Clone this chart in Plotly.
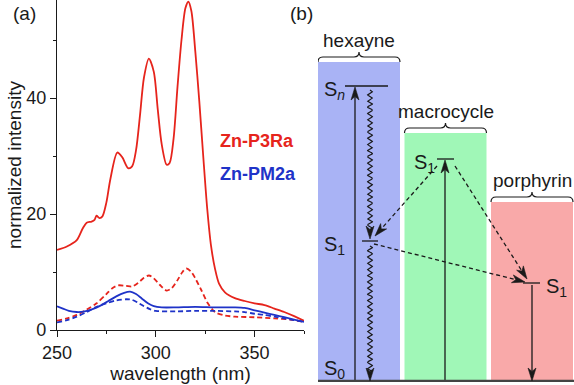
import numpy as np
import plotly.graph_objects as go

# ---------------- Panel (a): spectra ----------------
wl_p3ra = [250, 255, 260, 263, 265, 267.5, 269, 270, 271.5, 273, 275, 277, 280.5, 283, 286, 288,
           290, 292, 294, 296.5, 299, 301, 303, 305.5, 307, 309, 311, 313, 315, 316.5, 318, 320,
           322, 324, 326, 328, 330, 332, 335, 340, 345, 350, 355, 360, 365, 370, 375]
int_p3ra = [13.8, 14.4, 15.5, 17.5, 18.5, 18.7, 19.0, 19.7, 19.3, 19.6, 22.0, 26.0, 30.6, 29.8, 27.9, 28.2,
            31.0, 37.0, 43.5, 46.8, 44.5, 38.0, 32.0, 28.5, 28.8, 33.0, 42.0, 50.0, 55.5, 56.6, 55.0, 48.0,
            39.5, 30.0, 21.0, 14.4, 10.5, 8.0, 6.5, 5.5, 5.0, 4.6, 4.3, 3.7, 3.1, 2.4, 1.6]

wl_p3ra_d = [250, 255, 260, 265, 270, 275, 278, 281, 285, 288, 291, 294, 296.5, 299, 302, 305.5,
             308, 311, 313.5, 315.5, 318, 320, 323, 326, 329, 331, 335, 340, 350, 360, 368, 375]
int_p3ra_d = [1.6, 2.0, 2.6, 3.5, 4.6, 6.2, 7.2, 7.7, 7.6, 7.5, 8.1, 9.0, 9.4, 8.9, 7.8, 6.8,
              7.2, 8.6, 10.0, 10.6, 10.0, 8.9, 6.9, 4.8, 3.4, 2.9, 2.5, 2.3, 2.2, 2.0, 1.8, 1.4]

wl_pm2a = [250, 253, 256, 260, 264, 268, 272, 276, 280, 284, 287, 290, 293, 296, 299, 303,
           310, 320, 330, 340, 345, 350, 355, 360, 365, 370, 375]
int_pm2a = [4.1, 3.7, 3.3, 3.1, 3.2, 3.6, 4.2, 5.0, 5.8, 6.4, 6.6, 6.2, 5.4, 4.6, 4.1, 3.9,
            3.9, 4.0, 3.9, 3.9, 3.8, 3.4, 3.0, 2.6, 2.2, 1.8, 1.4]

wl_pm2a_d = [250, 255, 260, 265, 270, 275, 280, 285, 288, 291, 294, 297, 300, 310, 320, 330,
             340, 345, 350, 355, 360, 365, 370, 375]
int_pm2a_d = [1.3, 1.7, 2.3, 3.1, 4.0, 4.6, 5.1, 5.3, 5.2, 4.7, 4.1, 3.6, 3.3, 3.2, 3.3, 3.3,
              3.2, 3.1, 2.8, 2.6, 2.3, 2.0, 1.7, 1.4]

series_names = ["Zn-P3Ra", "Zn-PM2a"]
x_ticks = [250, 300, 350]
y_ticks = [0, 20, 40]

# ---------------- Panel (b): energy diagram ----------------
col_names = ["hexayne", "macrocycle", "porphyrin"]
col_top = [319, 248, 179]          # top of each band (arb. energy units)
E_Sn = 295                          # hexayne S_n
E_S1 = [140, 222, 98]               # S1 levels of hexayne, macrocycle, porphyrin

RED = "#e6241c"
BLUE = "#1f33c8"
INK = "#1a1a1a"
col_colors = ["#a9b3f5", "#a0f7b7", "#f9a9a9"]
FONT = "Liberation Sans, Arial, Helvetica, sans-serif"

W, H = 574, 385
ML, MR, MT, MB = 57, 0, 0, 3
PW, PH = W - ML - MR, H - MT - MB


def bx(px):
    return (np.asarray(px, dtype=float) - 359.0) / 86.5


def by(py):
    return 381.0 - np.asarray(py, dtype=float)


def pxE(E):
    return 381.0 - E


fig = go.Figure()

# spectra
for xs, ys, c, d in [(wl_p3ra, int_p3ra, RED, "solid"),
                     (wl_p3ra_d, int_p3ra_d, RED, "5px,3px"),
                     (wl_pm2a, int_pm2a, BLUE, "solid"),
                     (wl_pm2a_d, int_pm2a_d, BLUE, "5px,3px")]:
    fig.add_trace(go.Scatter(x=xs, y=ys, mode="lines", xaxis="x", yaxis="y",
                             line=dict(color=c, width=1.8, dash=d, shape="spline", smoothing=0.8),
                             showlegend=False, hoverinfo="skip"))

shapes = []
annotations = []

# bands
for i, (top, colr) in enumerate(zip(col_top, col_colors)):
    shapes.append(dict(type="rect", xref="x2", yref="y2", x0=i - 0.474, x1=i + 0.474,
                       y0=0, y1=top, fillcolor=colr, line=dict(width=0), layer="below"))
    # brace
    xl, xr = 359 + 86.5 * i - 41, 359 + 86.5 * i + 41
    xm = (xl + xr) / 2
    yt = pxE(top)
    r = 5
    pts = [("M", xl, yt), ("Q", xl, yt - r), ("", xl + r, yt - r), ("L", xm - r, yt - r),
           ("Q", xm, yt - r), ("", xm, yt - 2 * r), ("Q", xm, yt - r), ("", xm + r, yt - r),
           ("L", xr - r, yt - r), ("Q", xr, yt - r), ("", xr, yt)]
    path = " ".join(f"{cmd}{float(bx(x)):.4f},{float(by(y)):.2f}" for cmd, x, y in pts)
    shapes.append(dict(type="path", xref="x2", yref="y2", path=path,
                       line=dict(color=INK, width=1.2)))
    annotations.append(dict(x=i, y=top + 22, xref="x2", yref="y2", text=col_names[i],
                            showarrow=False, font=dict(size=19, color=INK),
                            xanchor="center", yanchor="middle"))

# baseline
shapes.append(dict(type="line", xref="x2", yref="y2", x0=-0.474, x1=2.49, y0=0, y1=0,
                   line=dict(color="#444", width=2.5)))

# levels
for x0, x1, E in [(345, 388, E_Sn), (362, 378, E_S1[0]), (437, 454, E_S1[1]), (523, 540, E_S1[2])]:
    shapes.append(dict(type="line", xref="x2", yref="y2", x0=float(bx(x0)), x1=float(bx(x1)),
                       y0=E, y1=E, line=dict(color=INK, width=1.3)))

# level labels
for txt, px, E in [("S<sub><i>n</i></sub>", 322, E_Sn), ("S<sub>1</sub>", 322, E_S1[0]),
                   ("S<sub>0</sub>", 322, 16), ("S<sub>1</sub>", 412, E_S1[1]),
                   ("S<sub>1</sub>", 544, E_S1[2])]:
    annotations.append(dict(x=float(bx(px)), y=E - 4, xref="x2", yref="y2", text=txt,
                            showarrow=False, font=dict(size=20, color=INK),
                            xanchor="left", yanchor="middle"))

HEAD_L, HEAD_W, NOTCH = 13.0, 4.0, 3.5


def head(tail, tip):
    s = np.array(tail, float)
    t = np.array(tip, float)
    u = (t - s) / np.linalg.norm(t - s)
    n = np.array([-u[1], u[0]])
    p1 = t - HEAD_L * u + HEAD_W * n
    p2 = t - (HEAD_L - NOTCH) * u
    p3 = t - HEAD_L * u - HEAD_W * n
    pts = [t, p1, p2, p3]
    path = "M" + " L".join(f"{float(bx(p[0])):.4f},{float(by(p[1])):.2f}" for p in pts) + " Z"
    shapes.append(dict(type="path", xref="x2", yref="y2", path=path, fillcolor=INK,
                       line=dict(color=INK, width=0.6)))
    return t - (HEAD_L - NOTCH) * u


def arrow(tail, tip, dash="solid"):
    s = np.array(tail, float)
    end = head(tail, tip)
    fig.add_trace(go.Scatter(x=bx([s[0], end[0]]), y=by([s[1], end[1]]), mode="lines",
                             xaxis="x2", yaxis="y2", line=dict(color=INK, width=1.3, dash=dash),
                             showlegend=False, hoverinfo="skip"))


# solid arrows
arrow((355, 381), (355, 87))
arrow((445, 381), (445, 160))
arrow((532, 285), (532, 381))


# wavy arrows
def wavy(xc, y0, tip):
    y1 = tip - HEAD_L + NOTCH
    ys = np.linspace(y0, y1, 400)
    xs = xc + 2.4 * np.sin(2 * np.pi * (ys - y0) / 6.2)
    fig.add_trace(go.Scatter(x=bx(xs), y=by(ys), mode="lines", xaxis="x2", yaxis="y2",
                             line=dict(color=INK, width=1.2), showlegend=False, hoverinfo="skip"))
    head((xc, tip - 20), (xc, tip))


wavy(370, 90, 239)
wavy(370, 246, 381)

# dashed arrows
arrow((437, 166), (375, 236), dash="4px,3px")
arrow((455, 166), (527, 279), dash="4px,3px")
arrow((374, 244), (525, 282), dash="4px,3px")

# panel (a) series labels
annotations.append(dict(x=331.5, y=32.6, xref="x", yref="y", text=f"<b>{series_names[0]}</b>",
                        showarrow=False, font=dict(size=18, color=RED), xanchor="left", yanchor="middle"))
annotations.append(dict(x=331.5, y=26.9, xref="x", yref="y", text=f"<b>{series_names[1]}</b>",
                        showarrow=False, font=dict(size=18, color=BLUE), xanchor="left", yanchor="middle"))

# y axis title
annotations.append(dict(x=(14 - ML) / PW, y=(H - MB - 165) / PH, xref="paper", yref="paper",
                        text="normalized intensity", textangle=-90, showarrow=False,
                        font=dict(size=19, color=INK), xanchor="center", yanchor="middle"))

# panel tags
annotations.append(dict(x=(24 - ML) / PW, y=(H - MB - 14) / PH, xref="paper", yref="paper", text="(a)",
                        showarrow=False, font=dict(size=19, color=INK), xanchor="center", yanchor="middle"))
annotations.append(dict(x=(301 - ML) / PW, y=(H - MB - 14) / PH, xref="paper", yref="paper", text="(b)",
                        showarrow=False, font=dict(size=19, color=INK), xanchor="center", yanchor="middle"))

fig.update_layout(
    template="none",
    width=W, height=H,
    margin=dict(l=ML, r=MR, t=MT, b=MB, pad=0, autoexpand=False),
    paper_bgcolor="white", plot_bgcolor="white",
    font=dict(family=FONT, color=INK),
    showlegend=False,
    xaxis=dict(domain=[0, (304 - ML) / PW], range=[250, 375], anchor="y", automargin=False,
               tickmode="array", tickvals=x_ticks, ticks="outside", ticklen=6, tickwidth=1.2, tickcolor=INK,
               minor=dict(dtick=25, tick0=250, ticks="outside", ticklen=3, tickwidth=1.2, tickcolor=INK),
               showline=True, linecolor=INK, linewidth=1.3, showgrid=False, zeroline=False,
               tickfont=dict(size=18), title=dict(text="wavelength (nm)", font=dict(size=19), standoff=4)),
    yaxis=dict(domain=[(PH - 330) / PH, 1], range=[0, 56.9], anchor="x", automargin=False,
               tickmode="array", tickvals=y_ticks, ticks="outside", ticklen=6, tickwidth=1.2, tickcolor=INK,
               minor=dict(dtick=10, tick0=0, ticks="outside", ticklen=3, tickwidth=1.2, tickcolor=INK),
               showline=True, linecolor=INK, linewidth=1.3, showgrid=False, zeroline=False,
               tickfont=dict(size=18)),
    xaxis2=dict(domain=[(318 - ML) / PW, 1], range=[float(bx(318)), float(bx(574))], anchor="y2",
                visible=False, fixedrange=True, automargin=False),
    yaxis2=dict(domain=[0, 1], range=[-1, 381], anchor="x2", visible=False, fixedrange=True,
                automargin=False),
    shapes=shapes,
    annotations=annotations,
)

fig.write_html("out.html", config={"displayModeBar": False},
               post_script="document.body.style.margin='0';document.body.style.padding='0';"
                           "document.documentElement.style.overflow='hidden';")
